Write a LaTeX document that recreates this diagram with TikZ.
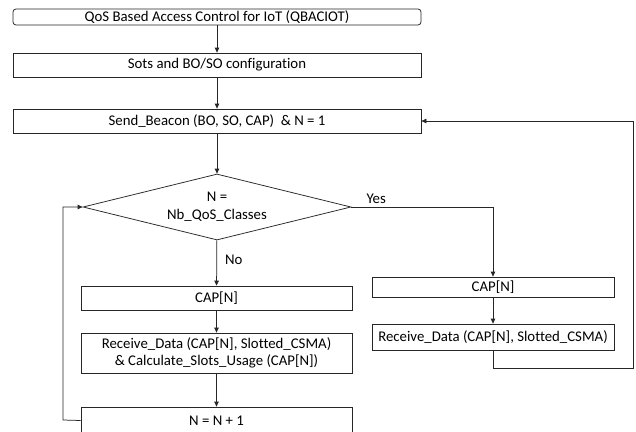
\documentclass[tikz,border=0pt]{standalone}
\usepackage{fontspec}
\setmainfont{Carlito}[Ligatures=CommonOff]
\usetikzlibrary{shapes.geometric,arrows.meta}
\begin{document}
\begin{tikzpicture}[x=1pt,y=-1pt,
  every node/.style={font=\fontsize{14.8}{17}\selectfont},
  box/.style={draw=black!85, line width=0.75pt, rectangle, inner sep=0pt, align=center},
  dec/.style={draw=black!85, line width=0.75pt, diamond, aspect=4.06, inner sep=0pt, align=center},
  conn/.style={draw=black!85, line width=0.75pt, -{Triangle[length=5pt,width=4.5pt]}},
  lab/.style={inner sep=0pt}]
\useasboundingbox (0,0) rectangle (636,431);
\node[box, rounded corners=3pt, minimum width=408pt, minimum height=16pt] (start) at (217,17) {QoS Based Access Control for IoT (QBACIOT)};
\node[box, minimum width=408pt, minimum height=24pt] (conf) at (217,65) {Sots and BO/SO configuration};
\node[box, minimum width=408pt, minimum height=24pt] (beacon) at (217,121) {Send\_Beacon (BO, SO, CAP)\ \ \& N = 1};
\node[dec, minimum width=268pt, minimum height=66pt] (dec) at (217,207) {N =\\[1pt]Nb\_QoS\_Classes};
\node[box, minimum width=271pt, minimum height=24pt] (capL) at (216.5,298) {CAP[N]};
\node[box, minimum width=271pt, minimum height=40pt] (recvL) at (216.5,353) {Receive\_Data (CAP[N], Slotted\_CSMA)\\\& Calculate\_Slots\_Usage (CAP[N])};
\node[box, minimum width=271pt, minimum height=27pt] (inc) at (216.5,420.5) {N = N + 1};
\node[box, minimum width=242pt, minimum height=20pt] (capR) at (493,287) {CAP[N]};
\node[box, minimum width=242pt, minimum height=26pt] (recvR) at (493,337) {Receive\_Data (CAP[N], Slotted\_CSMA)};
\coordinate (lp) at (63,420);
\coordinate (ret) at (633,368);
\draw[conn] (start) -- (conf);
\draw[conn] (conf) -- (beacon);
\draw[conn] (beacon) -- (dec);
\draw[conn] (dec) -- node[lab, anchor=west, xshift=8pt, yshift=3pt] (no) {No} (capL);
\draw[conn] (capL) -- (recvL);
\draw[conn] (recvL) -- (inc);
\draw[conn] (inc.west) -- (lp) |- (dec.west);
\draw[conn] (dec.east) -| (capR.north);
\node[lab, anchor=south west] (yes) at ([xshift=15pt,yshift=3pt]dec.east) {Yes};
\draw[conn] (capR) -- (recvR);
\draw[conn] (recvR.south) |- (ret) |- (beacon.east);
\end{tikzpicture}
\end{document}
